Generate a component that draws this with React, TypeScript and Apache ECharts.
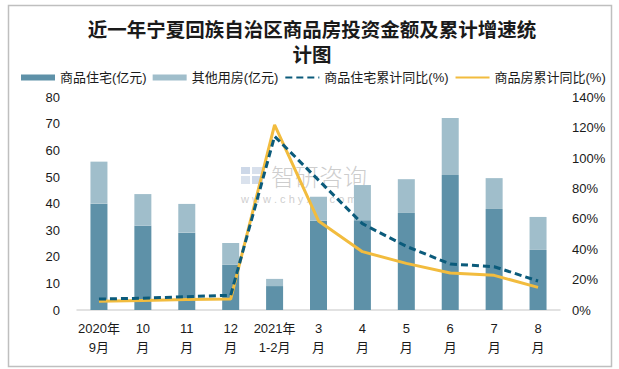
import React, { useEffect, useRef } from "react";
import * as echarts from "echarts";

const categories = ["2020年\n9月", "10\n月", "11\n月", "12\n月", "2021年\n1-2月", "3\n月", "4\n月", "5\n月", "6\n月", "7\n月", "8\n月"];
const residential = [40.0, 31.7, 29.1, 17.0, 9.0, 33.6, 33.8, 36.5, 50.8, 38.0, 22.6];
const otherUse = [15.8, 11.9, 10.8, 8.2, 2.7, 9.0, 13.2, 12.7, 21.4, 11.6, 12.4];
const residentialYoY = [7.2, 7.8, 8.8, 9.7, 114.3, 85.5, 56.8, 41.9, 30.3, 28.5, 19.1];
const totalYoY = [5.7, 6.3, 6.9, 7.2, 121.8, 58.6, 38.4, 30.7, 24.3, 22.8, 14.9];
const leftTicks = { min: 0, max: 80, interval: 10 };
const rightTicks = { min: 0, max: 140, interval: 20 };
const titleLines = ["近一年宁夏回族自治区商品房投资金额及累计增速统", "计图"];

const FONT = "'Liberation Sans', 'Noto Sans CJK SC', sans-serif";

export default function App() {
  const ref = useRef<HTMLDivElement>(null);
  useEffect(() => {
    if (!ref.current) return;
    const chart = echarts.init(ref.current, undefined, { renderer: "svg" });
    const titleStyle = {
      fontFamily: "'Noto Sans CJK SC', sans-serif",
      fontSize: 19.5,
      fontWeight: "bold",
      color: "#1a1a1a",
      lineHeight: 20,
    };
    chart.setOption({
      animation: false,
      backgroundColor: "#ffffff",
      title: [
        { text: titleLines[0], left: 312, top: 18, padding: 0, textAlign: "center", textStyle: titleStyle },
        { text: titleLines[1], left: 312, top: 43, padding: 0, textAlign: "center", textStyle: titleStyle },
      ],
      legend: {
        left: 16,
        top: 66,
        width: 600,
        itemWidth: 34,
        itemHeight: 6,
        itemGap: 6,
        textStyle: { fontFamily: FONT, fontSize: 13, color: "#1a1a1a" },
        data: [
          { name: "商品住宅(亿元)", icon: "rect" },
          { name: "其他用房(亿元)", icon: "rect" },
          { name: "商品住宅累计同比(%)", itemStyle: { opacity: 0 } },
          { name: "商品房累计同比(%)", itemStyle: { opacity: 0 } },
        ],
      },
      grid: { left: 77, right: 59, top: 97.3, bottom: 59 },
      xAxis: {
        type: "category",
        data: categories,
        axisLine: { lineStyle: { color: "#D9D9D9", width: 1.5 } },
        axisTick: { show: false },
        axisLabel: {
          fontFamily: FONT,
          fontSize: 13,
          color: "#1a1a1a",
          lineHeight: 19,
          margin: 9,
          interval: 0,
        },
      },
      yAxis: [
        {
          type: "value",
          ...leftTicks,
          splitLine: { show: false },
          axisLine: { show: false },
          axisTick: { show: false },
          axisLabel: { fontFamily: FONT, fontSize: 13, color: "#1a1a1a", margin: 17 },
        },
        {
          type: "value",
          ...rightTicks,
          splitLine: { show: false },
          axisLine: { show: false },
          axisTick: { show: false },
          axisLabel: { fontFamily: FONT, fontSize: 13, color: "#1a1a1a", margin: 12, formatter: "{value}%" },
        },
      ],
      series: [
        {
          name: "商品住宅(亿元)",
          type: "bar",
          stack: "a",
          barWidth: 17,
          data: residential,
          itemStyle: { color: "#5E91A8" },
        },
        {
          name: "其他用房(亿元)",
          type: "bar",
          stack: "a",
          barWidth: 17,
          data: otherUse,
          itemStyle: { color: "#A0BECB" },
        },
        {
          name: "商品住宅累计同比(%)",
          type: "line",
          yAxisIndex: 1,
          data: residentialYoY,
          symbol: "none",
          z: 4,
          lineStyle: { color: "#0B5B7B", width: 3, type: [7, 4] },
          itemStyle: { color: "#0B5B7B" },
        },
        {
          name: "商品房累计同比(%)",
          type: "line",
          yAxisIndex: 1,
          data: totalYoY,
          symbol: "none",
          z: 3,
          lineStyle: { color: "#F2BC3E", width: 3 },
          itemStyle: { color: "#F2BC3E" },
        },
      ],
      graphic: [
        {
          type: "rect",
          shape: { x: 8.5, y: 5.5, width: 603, height: 361 },
          style: { fill: "none", stroke: "#BFBFBF", lineWidth: 1.5 },
          silent: true,
          z: -1,
        },
        {
          type: "group",
          silent: true,
          z: 1,
          children: [
            { type: "rect", shape: { x: 241, y: 167, width: 9, height: 7 }, style: { fill: "#B8C8DE", opacity: 0.7 } },
            { type: "rect", shape: { x: 241, y: 176, width: 9, height: 8 }, style: { fill: "#CBD6E6", opacity: 0.7 } },
            { type: "rect", shape: { x: 252, y: 167, width: 11, height: 7 }, style: { fill: "#C7D3E4", opacity: 0.7 } },
            { type: "rect", shape: { x: 252, y: 176, width: 11, height: 8 }, style: { fill: "#B8C8DE", opacity: 0.7 } },
            {
              type: "text",
              x: 271,
              y: 175,
              style: {
                text: "智研咨询",
                font: "300 24px 'Noto Sans CJK SC', sans-serif",
                fill: "#BDBDBD",
                opacity: 0.75,
                textVerticalAlign: "middle",
              },
            },
            {
              type: "text",
              x: 241,
              y: 199,
              style: {
                text: "w w w . c h y x x . c o m",
                font: "11px 'Liberation Sans', sans-serif",
                fill: "#BDBDBD",
                opacity: 0.75,
                textVerticalAlign: "middle",
              },
            },
          ],
        },
      ],
    });
    return () => chart.dispose();
  }, []);
  return <div ref={ref} style={{ position: "fixed", left: 0, top: 0, width: 619, height: 369 }} />;
}
